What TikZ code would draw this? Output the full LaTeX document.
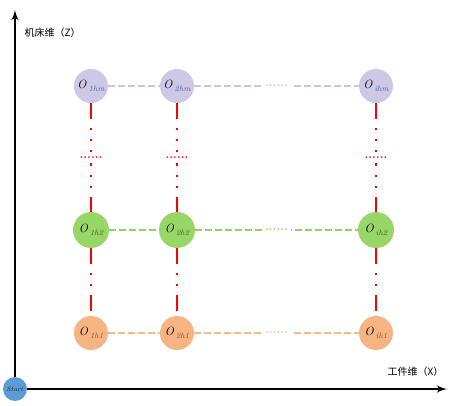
\documentclass[tikz,border=0pt]{standalone}
\usepackage{fontspec}
\newfontfamily\cjk{Noto Sans CJK SC}
\usetikzlibrary{arrows}
\usetikzlibrary{positioning}
\definecolor{lilac}{HTML}{CCC8E6}
\definecolor{lilacline}{HTML}{C8C5E2}
\definecolor{leaf}{HTML}{99D668}
\definecolor{leafline}{HTML}{96D262}
\definecolor{peach}{HTML}{F5B482}
\definecolor{peachline}{HTML}{F6BA88}
\definecolor{startblue}{HTML}{5B9BD5}
\definecolor{subtop}{HTML}{4A5FA0}
\definecolor{submid}{HTML}{3D5B22}
\definecolor{subbot}{HTML}{8A5424}
\newcommand{\olab}[2]{\fontsize{12}{12}\selectfont\textit{O}\,\raisebox{-2.5pt}{\fontsize{8}{8}\selectfont\textit{\textcolor{#1}{#2}}}}
\tikzset{
  ptnode/.style={circle, minimum size=34pt, inner sep=0pt},
  topnode/.style={ptnode, fill=lilac},
  midnode/.style={ptnode, fill=leaf, minimum size=36pt},
  botnode/.style={ptnode, fill=peach},
  hline/.style={line width=2.4pt, dash pattern=on 6.5pt off 3.5pt},
  vline/.style={line width=2pt, red, dash pattern=on 16pt off 9pt on 2pt off 9pt on 2pt off 9pt},
  gapdots/.style={fill=white, inner sep=3pt, font=\bfseries\fontsize{12}{12}\selectfont},
  axis/.style={line width=2.5pt, -latex'},
  axislabel/.style={font=\cjk\fontsize{10}{10}\selectfont}
}

\begin{document}
\begin{tikzpicture}[x=1pt, y=-1pt]
  \useasboundingbox (0,0) rectangle (458,406);

  % origin and the two axes
  \node[circle, fill=startblue, minimum size=24pt, inner sep=0pt] (start) at (15,389)
    {\fontsize{6.5}{6.5}\selectfont\textit{\textcolor{black!85}{Start}}};
  \coordinate (zend) at (15,10);
  \coordinate (xend) at (447,389);
  \draw[axis] (start.north) -- (zend);
  \draw[axis] (start.east) -- (xend);
  \node[axislabel, anchor=west] (zlab) at (21,33) {机床维（Z）};
  \node[axislabel, anchor=east] (xlab) at (447,372) {工件维（X）};

  % three rows of points
  \foreach \c/\x/\s in {1/91/1, 2/177/2, 3/376/i} {
    \node[topnode] (t\c) at (\x,86) {\olab{subtop}{\s hm}};
    \node[midnode] (m\c) at (\x,230) {\olab{submid}{\s h2}};
    \node[botnode] (b\c) at (\x,333) {\olab{subbot}{\s h1}};
  };

  % rows
  \draw[hline, lilacline] (t1) -- (t2);
  \draw[hline, lilacline] (t2) -- (t3) node[midway, gapdots, text=lilacline] (tdots) {......};
  \draw[hline, leafline] (m1) -- (m2);
  \draw[hline, leafline] (m2) -- (m3) node[midway, gapdots, text=leafline] (mdots) {......};
  \draw[hline, peachline] (b1) -- (b2);
  \draw[hline, peachline] (b2) -- (b3) node[midway, gapdots, text=peachline] (bdots) {......};

  % columns
  \foreach \c in {1,2,3} {
    \draw[vline] (t\c) -- (m\c) node[midway, gapdots, text=red, inner sep=5pt] (vdots\c) {......};
    \draw[vline] (m\c) -- (b\c);
  };
\end{tikzpicture}
\end{document}
